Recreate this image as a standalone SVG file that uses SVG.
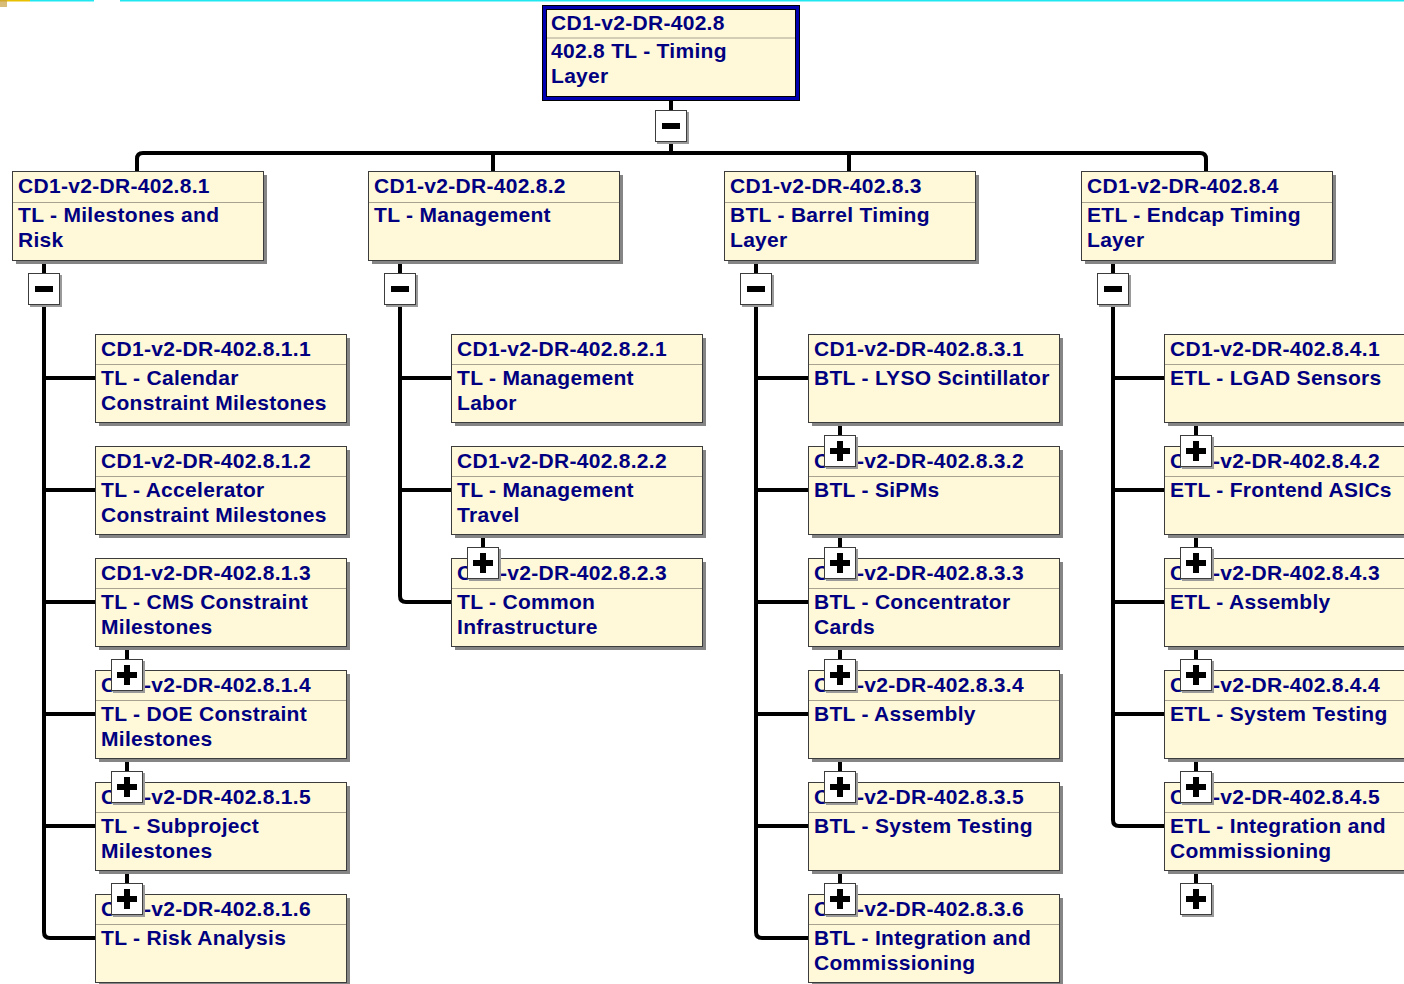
<svg xmlns="http://www.w3.org/2000/svg" width="1404" height="984" viewBox="0 0 1404 984">
<style>
.sh{fill:#858585}
.box{fill:#FFF9D9;stroke:#3c3c3c;stroke-width:1}
.sep{stroke:#a8a290;stroke-width:1}
.t{font-family:"Liberation Sans",Arial,sans-serif;font-weight:bold;font-size:21px;letter-spacing:0.3px;fill:#000080}
.ln{fill:none;stroke:#000;stroke-width:4;stroke-linejoin:round}
.stub{fill:none;stroke:#000;stroke-width:4}
.eb{fill:#fff;stroke:#3c3c3c;stroke-width:1}
.es{fill:#9a9a9a}
.sym{fill:none;stroke:#000;stroke-width:6}
</style>
<defs>
<g id="minus">
<rect class="es" x="2" y="2" width="32" height="32"/>
<rect class="eb" x="0.5" y="0.5" width="31" height="31"/>
<path class="sym" d="M7,16 H25"/>
</g>
<g id="plus">
<rect class="es" x="2" y="2" width="32" height="32"/>
<rect class="eb" x="0.5" y="0.5" width="31" height="31"/>
<path class="sym" d="M6,16 H26 M16,6 V26"/>
</g>
</defs>
<rect width="1404" height="984" fill="#fff"/>
<rect x="0" y="0" width="30" height="1.5" fill="#e8c000"/>
<rect x="0" y="0" width="7" height="7" fill="#c8a040" opacity="0.7"/>
<rect x="30" y="0" width="64" height="1.5" fill="#20e8f0"/>
<rect x="120" y="0" width="1284" height="1.5" fill="#20e8f0"/>

<g id="connectors">
<path class="stub" d="M671,101 V110 M671,143 V153"/>
<path class="ln" d="M137,171 V159 Q137,153 143,153 H1200 Q1206,153 1206,159 V171 M493,153 V171 M849,153 V171"/>
<path class="stub" d="M44,260 V273 M400,260 V273 M756,260 V273 M1113,260 V273"/>
<path class="ln" d="M44,305 V932 Q44,938 50,938 H95 M44,378 H95 M44,490 H95 M44,602 H95 M44,714 H95 M44,826 H95"/>
<path class="ln" d="M400,305 V596 Q400,602 406,602 H451 M400,378 H451 M400,490 H451"/>
<path class="ln" d="M756,305 V932 Q756,938 762,938 H808 M756,378 H808 M756,490 H808 M756,602 H808 M756,714 H808 M756,826 H808"/>
<path class="ln" d="M1113,305 V820 Q1113,826 1119,826 H1164 M1113,378 H1164 M1113,490 H1164 M1113,602 H1164 M1113,714 H1164"/>
<path class="stub" d="M127,646 V659 M127,758 V771 M127,870 V883"/>
<path class="stub" d="M483,534 V547"/>
<path class="stub" d="M840,422 V435 M840,534 V547 M840,646 V659 M840,758 V771 M840,870 V883"/>
<path class="stub" d="M1196,422 V435 M1196,534 V547 M1196,646 V659 M1196,758 V771 M1196,870 V883"/>
</g>

<g id="n-8">
<rect x="542" y="5" width="258" height="96" fill="#000"/>
<rect x="543" y="6" width="256" height="94" fill="#0000b0"/>
<rect x="546" y="9" width="250" height="88" fill="#000"/>
<rect x="547" y="10" width="248" height="86" fill="#FFF9D9"/>
<line class="sep" x1="547" y1="38" x2="795" y2="38"/>
<text class="t" x="551" y="30">CD1-v2-DR-402.8</text>
<text class="t" x="551" y="58">402.8 TL - Timing</text>
<text class="t" x="551" y="83">Layer</text>
</g>

<g id="n-8-1">
<rect class="sh" x="16" y="175" width="251" height="89"/>
<rect class="box" x="12.5" y="171.5" width="251" height="89"/>
<line class="sep" x1="13" y1="202.5" x2="263" y2="202.5"/>
<text class="t" x="18" y="193">CD1-v2-DR-402.8.1</text>
<text class="t" x="18" y="222">TL - Milestones and</text>
<text class="t" x="18" y="247">Risk</text>
</g>
<g id="n-8-2">
<rect class="sh" x="372" y="175" width="251" height="89"/>
<rect class="box" x="368.5" y="171.5" width="251" height="89"/>
<line class="sep" x1="369" y1="202.5" x2="619" y2="202.5"/>
<text class="t" x="374" y="193">CD1-v2-DR-402.8.2</text>
<text class="t" x="374" y="222">TL - Management</text>
</g>
<g id="n-8-3">
<rect class="sh" x="728" y="175" width="251" height="89"/>
<rect class="box" x="724.5" y="171.5" width="251" height="89"/>
<line class="sep" x1="725" y1="202.5" x2="975" y2="202.5"/>
<text class="t" x="730" y="193">CD1-v2-DR-402.8.3</text>
<text class="t" x="730" y="222">BTL - Barrel Timing</text>
<text class="t" x="730" y="247">Layer</text>
</g>
<g id="n-8-4">
<rect class="sh" x="1085" y="175" width="251" height="89"/>
<rect class="box" x="1081.5" y="171.5" width="251" height="89"/>
<line class="sep" x1="1082" y1="202.5" x2="1332" y2="202.5"/>
<text class="t" x="1087" y="193">CD1-v2-DR-402.8.4</text>
<text class="t" x="1087" y="222">ETL - Endcap Timing</text>
<text class="t" x="1087" y="247">Layer</text>
</g>

<!-- column 1 -->
<g id="n-8-1-1">
<rect class="sh" x="99" y="338" width="251" height="88"/>
<rect class="box" x="95.5" y="334.5" width="251" height="88"/>
<line class="sep" x1="96" y1="364.5" x2="346" y2="364.5"/>
<text class="t" x="101" y="356">CD1-v2-DR-402.8.1.1</text>
<text class="t" x="101" y="385">TL - Calendar</text>
<text class="t" x="101" y="410">Constraint Milestones</text>
</g>
<g id="n-8-1-2">
<rect class="sh" x="99" y="450" width="251" height="88"/>
<rect class="box" x="95.5" y="446.5" width="251" height="88"/>
<line class="sep" x1="96" y1="476.5" x2="346" y2="476.5"/>
<text class="t" x="101" y="468">CD1-v2-DR-402.8.1.2</text>
<text class="t" x="101" y="497">TL - Accelerator</text>
<text class="t" x="101" y="522">Constraint Milestones</text>
</g>
<g id="n-8-1-3">
<rect class="sh" x="99" y="562" width="251" height="88"/>
<rect class="box" x="95.5" y="558.5" width="251" height="88"/>
<line class="sep" x1="96" y1="588.5" x2="346" y2="588.5"/>
<text class="t" x="101" y="580">CD1-v2-DR-402.8.1.3</text>
<text class="t" x="101" y="609">TL - CMS Constraint</text>
<text class="t" x="101" y="634">Milestones</text>
</g>
<g id="n-8-1-4">
<rect class="sh" x="99" y="674" width="251" height="88"/>
<rect class="box" x="95.5" y="670.5" width="251" height="88"/>
<line class="sep" x1="96" y1="700.5" x2="346" y2="700.5"/>
<text class="t" x="101" y="692">CD1-v2-DR-402.8.1.4</text>
<text class="t" x="101" y="721">TL - DOE Constraint</text>
<text class="t" x="101" y="746">Milestones</text>
</g>
<g id="n-8-1-5">
<rect class="sh" x="99" y="786" width="251" height="88"/>
<rect class="box" x="95.5" y="782.5" width="251" height="88"/>
<line class="sep" x1="96" y1="812.5" x2="346" y2="812.5"/>
<text class="t" x="101" y="804">CD1-v2-DR-402.8.1.5</text>
<text class="t" x="101" y="833">TL - Subproject</text>
<text class="t" x="101" y="858">Milestones</text>
</g>
<g id="n-8-1-6">
<rect class="sh" x="99" y="898" width="251" height="88"/>
<rect class="box" x="95.5" y="894.5" width="251" height="88"/>
<line class="sep" x1="96" y1="924.5" x2="346" y2="924.5"/>
<text class="t" x="101" y="916">CD1-v2-DR-402.8.1.6</text>
<text class="t" x="101" y="945">TL - Risk Analysis</text>
</g>

<!-- column 2 -->
<g id="n-8-2-1">
<rect class="sh" x="455" y="338" width="251" height="88"/>
<rect class="box" x="451.5" y="334.5" width="251" height="88"/>
<line class="sep" x1="452" y1="364.5" x2="702" y2="364.5"/>
<text class="t" x="457" y="356">CD1-v2-DR-402.8.2.1</text>
<text class="t" x="457" y="385">TL - Management</text>
<text class="t" x="457" y="410">Labor</text>
</g>
<g id="n-8-2-2">
<rect class="sh" x="455" y="450" width="251" height="88"/>
<rect class="box" x="451.5" y="446.5" width="251" height="88"/>
<line class="sep" x1="452" y1="476.5" x2="702" y2="476.5"/>
<text class="t" x="457" y="468">CD1-v2-DR-402.8.2.2</text>
<text class="t" x="457" y="497">TL - Management</text>
<text class="t" x="457" y="522">Travel</text>
</g>
<g id="n-8-2-3">
<rect class="sh" x="455" y="562" width="251" height="88"/>
<rect class="box" x="451.5" y="558.5" width="251" height="88"/>
<line class="sep" x1="452" y1="588.5" x2="702" y2="588.5"/>
<text class="t" x="457" y="580">CD1-v2-DR-402.8.2.3</text>
<text class="t" x="457" y="609">TL - Common</text>
<text class="t" x="457" y="634">Infrastructure</text>
</g>

<!-- column 3 -->
<g id="n-8-3-1">
<rect class="sh" x="812" y="338" width="251" height="88"/>
<rect class="box" x="808.5" y="334.5" width="251" height="88"/>
<line class="sep" x1="809" y1="364.5" x2="1059" y2="364.5"/>
<text class="t" x="814" y="356">CD1-v2-DR-402.8.3.1</text>
<text class="t" x="814" y="385">BTL - LYSO Scintillator</text>
</g>
<g id="n-8-3-2">
<rect class="sh" x="812" y="450" width="251" height="88"/>
<rect class="box" x="808.5" y="446.5" width="251" height="88"/>
<line class="sep" x1="809" y1="476.5" x2="1059" y2="476.5"/>
<text class="t" x="814" y="468">CD1-v2-DR-402.8.3.2</text>
<text class="t" x="814" y="497">BTL - SiPMs</text>
</g>
<g id="n-8-3-3">
<rect class="sh" x="812" y="562" width="251" height="88"/>
<rect class="box" x="808.5" y="558.5" width="251" height="88"/>
<line class="sep" x1="809" y1="588.5" x2="1059" y2="588.5"/>
<text class="t" x="814" y="580">CD1-v2-DR-402.8.3.3</text>
<text class="t" x="814" y="609">BTL - Concentrator</text>
<text class="t" x="814" y="634">Cards</text>
</g>
<g id="n-8-3-4">
<rect class="sh" x="812" y="674" width="251" height="88"/>
<rect class="box" x="808.5" y="670.5" width="251" height="88"/>
<line class="sep" x1="809" y1="700.5" x2="1059" y2="700.5"/>
<text class="t" x="814" y="692">CD1-v2-DR-402.8.3.4</text>
<text class="t" x="814" y="721">BTL - Assembly</text>
</g>
<g id="n-8-3-5">
<rect class="sh" x="812" y="786" width="251" height="88"/>
<rect class="box" x="808.5" y="782.5" width="251" height="88"/>
<line class="sep" x1="809" y1="812.5" x2="1059" y2="812.5"/>
<text class="t" x="814" y="804">CD1-v2-DR-402.8.3.5</text>
<text class="t" x="814" y="833">BTL - System Testing</text>
</g>
<g id="n-8-3-6">
<rect class="sh" x="812" y="898" width="251" height="88"/>
<rect class="box" x="808.5" y="894.5" width="251" height="88"/>
<line class="sep" x1="809" y1="924.5" x2="1059" y2="924.5"/>
<text class="t" x="814" y="916">CD1-v2-DR-402.8.3.6</text>
<text class="t" x="814" y="945">BTL - Integration and</text>
<text class="t" x="814" y="970">Commissioning</text>
</g>

<!-- column 4 -->
<g id="n-8-4-1">
<rect class="sh" x="1168" y="338" width="251" height="88"/>
<rect class="box" x="1164.5" y="334.5" width="251" height="88"/>
<line class="sep" x1="1165" y1="364.5" x2="1415" y2="364.5"/>
<text class="t" x="1170" y="356">CD1-v2-DR-402.8.4.1</text>
<text class="t" x="1170" y="385">ETL - LGAD Sensors</text>
</g>
<g id="n-8-4-2">
<rect class="sh" x="1168" y="450" width="251" height="88"/>
<rect class="box" x="1164.5" y="446.5" width="251" height="88"/>
<line class="sep" x1="1165" y1="476.5" x2="1415" y2="476.5"/>
<text class="t" x="1170" y="468">CD1-v2-DR-402.8.4.2</text>
<text class="t" x="1170" y="497">ETL - Frontend ASICs</text>
</g>
<g id="n-8-4-3">
<rect class="sh" x="1168" y="562" width="251" height="88"/>
<rect class="box" x="1164.5" y="558.5" width="251" height="88"/>
<line class="sep" x1="1165" y1="588.5" x2="1415" y2="588.5"/>
<text class="t" x="1170" y="580">CD1-v2-DR-402.8.4.3</text>
<text class="t" x="1170" y="609">ETL - Assembly</text>
</g>
<g id="n-8-4-4">
<rect class="sh" x="1168" y="674" width="251" height="88"/>
<rect class="box" x="1164.5" y="670.5" width="251" height="88"/>
<line class="sep" x1="1165" y1="700.5" x2="1415" y2="700.5"/>
<text class="t" x="1170" y="692">CD1-v2-DR-402.8.4.4</text>
<text class="t" x="1170" y="721">ETL - System Testing</text>
</g>
<g id="n-8-4-5">
<rect class="sh" x="1168" y="786" width="251" height="88"/>
<rect class="box" x="1164.5" y="782.5" width="251" height="88"/>
<line class="sep" x1="1165" y1="812.5" x2="1415" y2="812.5"/>
<text class="t" x="1170" y="804">CD1-v2-DR-402.8.4.5</text>
<text class="t" x="1170" y="833">ETL - Integration and</text>
<text class="t" x="1170" y="858">Commissioning</text>
</g>

<g id="expanders">
<use href="#minus" x="655" y="110"/>
<use href="#minus" x="28" y="273"/>
<use href="#minus" x="384" y="273"/>
<use href="#minus" x="740" y="273"/>
<use href="#minus" x="1097" y="273"/>
<use href="#plus" x="111" y="659"/>
<use href="#plus" x="111" y="771"/>
<use href="#plus" x="111" y="883"/>
<use href="#plus" x="467" y="547"/>
<use href="#plus" x="824" y="435"/>
<use href="#plus" x="824" y="547"/>
<use href="#plus" x="824" y="659"/>
<use href="#plus" x="824" y="771"/>
<use href="#plus" x="824" y="883"/>
<use href="#plus" x="1180" y="435"/>
<use href="#plus" x="1180" y="547"/>
<use href="#plus" x="1180" y="659"/>
<use href="#plus" x="1180" y="771"/>
<use href="#plus" x="1180" y="883"/>
</g>
</svg>
